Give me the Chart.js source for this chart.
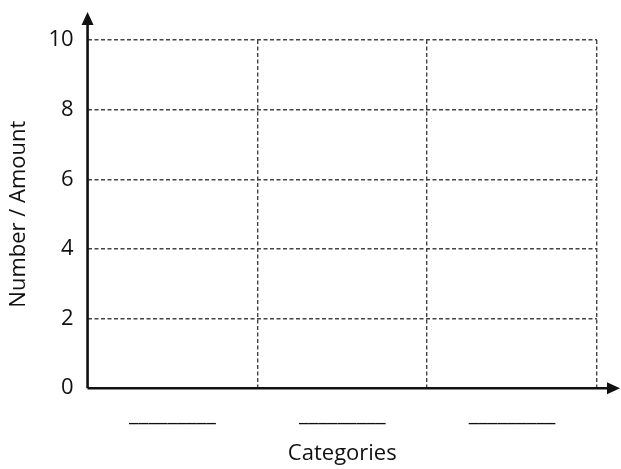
<!DOCTYPE html>
<html>
<head>
<meta charset="utf-8">
<script src="https://cdn.jsdelivr.net/npm/chart.js@4"></script>
<style>
  html, body { margin: 0; padding: 0; background: #fff; }
  #wrap { width: 621px; height: 469px; }
</style>
</head>
<body>
<div id="wrap"><canvas id="chart"></canvas></div>
<script>
// Blank bar-chart template: three unnamed categories, no values yet
const categories = ['_________', '_________', '_________'];
const values = [null, null, null];
const yMin = 0;
const yMax = 10;
const yStep = 2;
const xTitle = 'Categories';
const yTitle = 'Number / Amount';

// Axes drawn as thick lines with arrowheads, extending past the plot area
const arrowAxes = {
    id: 'arrowAxes',
    afterDraw(chart) {
        const { ctx, chartArea } = chart;
        const x0 = chart.scales.x.left;
        const y0 = chart.scales.y.getPixelForValue(yMin);
        const topY = chartArea.top - 26;
        const rightX = chartArea.right + 21;
        ctx.save();
        ctx.strokeStyle = '#111';
        ctx.fillStyle = '#111';
        ctx.lineWidth = 2.6;
        ctx.beginPath();
        ctx.moveTo(x0, y0);
        ctx.lineTo(x0, topY + 6);
        ctx.moveTo(x0, y0);
        ctx.lineTo(rightX - 6, y0);
        ctx.stroke();
        // up arrow
        ctx.beginPath();
        ctx.moveTo(x0, topY - 2);
        ctx.lineTo(x0 - 6, topY + 11);
        ctx.lineTo(x0 + 6, topY + 11);
        ctx.closePath();
        ctx.fill();
        // right arrow
        ctx.beginPath();
        ctx.moveTo(rightX + 2, y0);
        ctx.lineTo(rightX - 11, y0 - 6);
        ctx.lineTo(rightX - 11, y0 + 6);
        ctx.closePath();
        ctx.fill();
        ctx.restore();
    }
};

const ctx = document.getElementById('chart').getContext('2d');
new Chart(ctx, {
    type: 'bar',
    data: {
        labels: categories,
        datasets: [{
            label: 'Amount',
            data: values,
            backgroundColor: '#888'
        }]
    },
    options: {
        responsive: true,
        maintainAspectRatio: false,
        animation: false,
        layout: {
            padding: { top: 40, right: 24, bottom: 2, left: 6 }
        },
        plugins: {
            legend: { display: false },
            tooltip: { enabled: false }
        },
        scales: {
            x: {
                offset: true,
                grid: {
                    offset: true,
                    drawTicks: false,
                    color: (c) => c.index === 0 ? 'rgba(0,0,0,0)' : '#444',
                    lineWidth: 1.4
                },
                border: { display: false, dash: [4, 2.5] },
                ticks: {
                    color: '#111',
                    padding: 13,
                    maxRotation: 0,
                    font: { family: 'Open Sans', size: 22 }
                },
                title: {
                    display: true,
                    text: xTitle,
                    color: '#111',
                    padding: { top: 0, bottom: 0 },
                    font: { family: 'Open Sans', size: 22 }
                }
            },
            y: {
                min: yMin,
                max: yMax,
                grid: {
                    drawTicks: false,
                    color: (c) => c.tick.value === yMin ? 'rgba(0,0,0,0)' : '#444',
                    lineWidth: 1.4
                },
                border: { display: false, dash: [4, 2.5] },
                ticks: {
                    stepSize: yStep,
                    color: '#111',
                    padding: 14,
                    font: { family: 'Open Sans', size: 22 }
                },
                title: {
                    display: true,
                    text: yTitle,
                    color: '#111',
                    padding: { top: 0, bottom: 2 },
                    font: { family: 'Open Sans', size: 22 }
                }
            }
        }
    },
    plugins: [arrowAxes]
});
</script>
</body>
</html>
